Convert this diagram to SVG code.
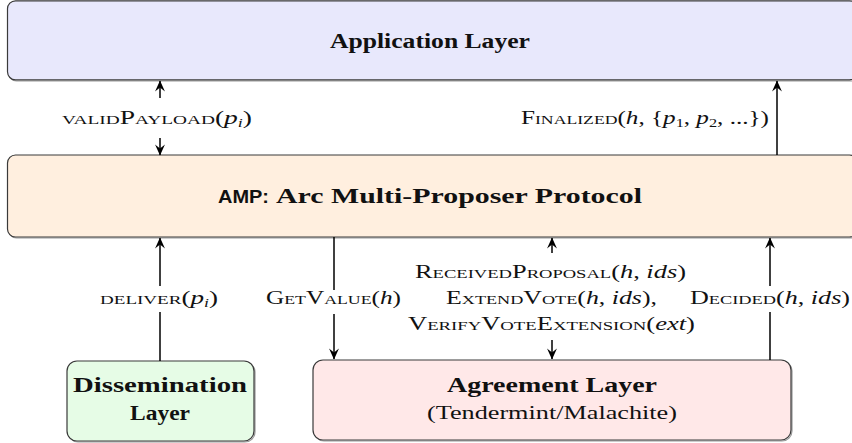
<svg xmlns="http://www.w3.org/2000/svg" width="852" height="443" viewBox="0 0 852 443">
<style>
.box{stroke:#3a3a3a;stroke-width:1.2}
.shadow{fill:none;stroke:#9a9a9a;stroke-width:1.2}
.title{font-family:"Liberation Serif","DejaVu Serif",serif;font-weight:bold;font-size:20px;fill:#111;text-anchor:middle}
.sub{font-family:"Liberation Serif","DejaVu Serif",serif;font-size:19px;fill:#111;text-anchor:middle}
.lbl{font-family:"Liberation Serif","DejaVu Serif",serif;font-size:18.5px;fill:#111;font-variant:small-caps}
.m{font-style:italic;font-variant:normal}
.mu{font-variant:normal}
.s{font-size:12px;font-style:italic;font-variant:normal}
.sn{font-size:12px;font-variant:normal}
.ln{stroke:#000;stroke-width:1.5;fill:none}
</style>
<defs>
<marker id="ah" viewBox="0 0 10 10" refX="9.5" refY="5" markerWidth="13" markerHeight="11" markerUnits="userSpaceOnUse" orient="auto">
<path d="M0,0.5 L10,5 L0,9.5 L3.5,5 Z" fill="#000"/>
</marker>
</defs>

<g id="application-layer">
<rect class="shadow" x="8.5" y="2" width="850" height="79" rx="8"/>
<rect class="box" x="7.5" y="0.8" width="850" height="79" rx="8" fill="#E8E8FC"/>
<text class="title" x="430" y="48" textLength="200" lengthAdjust="spacingAndGlyphs">Application Layer</text>
</g>

<g id="amp">
<rect class="shadow" x="8.5" y="156" width="850" height="82" rx="8"/>
<rect class="box" x="7.5" y="155" width="850" height="82" rx="8" fill="#FFEFDF"/>
<text x="218" y="203" style="font-family:'Liberation Sans','DejaVu Sans',sans-serif;font-weight:bold;font-size:19px;fill:#111" textLength="51" lengthAdjust="spacingAndGlyphs">AMP:</text>
<text x="276" y="203" style="font-family:'Liberation Serif','DejaVu Serif',serif;font-weight:bold;font-size:20px;fill:#111" textLength="366" lengthAdjust="spacingAndGlyphs">Arc Multi-Proposer Protocol</text>
</g>

<g id="dissemination-layer">
<rect class="shadow" x="68" y="362" width="187" height="80" rx="10"/>
<rect class="box" x="67" y="361" width="187" height="80" rx="10" fill="#E6FCE6"/>
<text class="title" x="160" y="392" textLength="174" lengthAdjust="spacingAndGlyphs">Dissemination</text>
<text class="title" x="160" y="420" textLength="60" lengthAdjust="spacingAndGlyphs">Layer</text>
</g>

<g id="agreement-layer">
<rect class="shadow" x="314" y="361" width="478" height="80" rx="10"/>
<rect class="box" x="313" y="360" width="478" height="80" rx="10" fill="#FFE8E8"/>
<text class="title" x="552" y="392" textLength="210" lengthAdjust="spacingAndGlyphs">Agreement Layer</text>
<text class="sub" x="552" y="419" textLength="250" lengthAdjust="spacingAndGlyphs">(Tendermint/Malachite)</text>
</g>

<g id="connectors">
<line class="ln" x1="160" y1="98" x2="160" y2="81" marker-end="url(#ah)"/>
<line class="ln" x1="160" y1="138" x2="160" y2="155" marker-end="url(#ah)"/>
<line class="ln" x1="777" y1="155" x2="777" y2="81" marker-end="url(#ah)"/>
<line class="ln" x1="160" y1="361" x2="160" y2="238" marker-end="url(#ah)"/>
<line class="ln" x1="334" y1="237" x2="334" y2="290"/>
<line class="ln" x1="334" y1="314" x2="334" y2="359" marker-end="url(#ah)"/>
<line class="ln" x1="552" y1="253" x2="552" y2="238" marker-end="url(#ah)"/>
<line class="ln" x1="552" y1="340" x2="552" y2="359" marker-end="url(#ah)"/>
<line class="ln" x1="770" y1="360" x2="770" y2="238" marker-end="url(#ah)"/>
</g>

<g id="labels">
<rect x="95" y="286" width="128" height="26" fill="#fff"/>
<rect x="685" y="286" width="167" height="26" fill="#fff"/>
<text class="lbl" x="62" y="124" textLength="190" lengthAdjust="spacingAndGlyphs">validPayload<tspan class="mu">(</tspan><tspan class="m">p</tspan><tspan class="s" dy="3">i</tspan><tspan class="mu" dy="-3">)</tspan></text>
<text class="lbl" x="521" y="124" textLength="248" lengthAdjust="spacingAndGlyphs">Finalized<tspan class="mu">(</tspan><tspan class="m">h</tspan><tspan class="mu">, {</tspan><tspan class="m">p</tspan><tspan class="sn" dy="3">1</tspan><tspan class="mu" dy="-3">, </tspan><tspan class="m">p</tspan><tspan class="sn" dy="3">2</tspan><tspan class="mu" dy="-3">, ...})</tspan></text>
<text class="lbl" x="100" y="304" textLength="118" lengthAdjust="spacingAndGlyphs">deliver<tspan class="mu">(</tspan><tspan class="m">p</tspan><tspan class="s" dy="3">i</tspan><tspan class="mu" dy="-3">)</tspan></text>
<text class="lbl" x="266" y="304" textLength="135" lengthAdjust="spacingAndGlyphs">GetValue<tspan class="mu">(</tspan><tspan class="m">h</tspan><tspan class="mu">)</tspan></text>
<text class="lbl" x="415" y="278" textLength="271" lengthAdjust="spacingAndGlyphs">ReceivedProposal<tspan class="mu">(</tspan><tspan class="m">h</tspan><tspan class="mu">, </tspan><tspan class="m">ids</tspan><tspan class="mu">)</tspan></text>
<text class="lbl" x="446" y="304" textLength="211" lengthAdjust="spacingAndGlyphs">ExtendVote<tspan class="mu">(</tspan><tspan class="m">h</tspan><tspan class="mu">, </tspan><tspan class="m">ids</tspan><tspan class="mu">),</tspan></text>
<text class="lbl" x="408" y="330" textLength="287" lengthAdjust="spacingAndGlyphs">VerifyVoteExtension<tspan class="mu">(</tspan><tspan class="m">ext</tspan><tspan class="mu">)</tspan></text>
<text class="lbl" x="690" y="304" textLength="160" lengthAdjust="spacingAndGlyphs">Decided<tspan class="mu">(</tspan><tspan class="m">h</tspan><tspan class="mu">, </tspan><tspan class="m">ids</tspan><tspan class="mu">)</tspan></text>
</g>
</svg>
